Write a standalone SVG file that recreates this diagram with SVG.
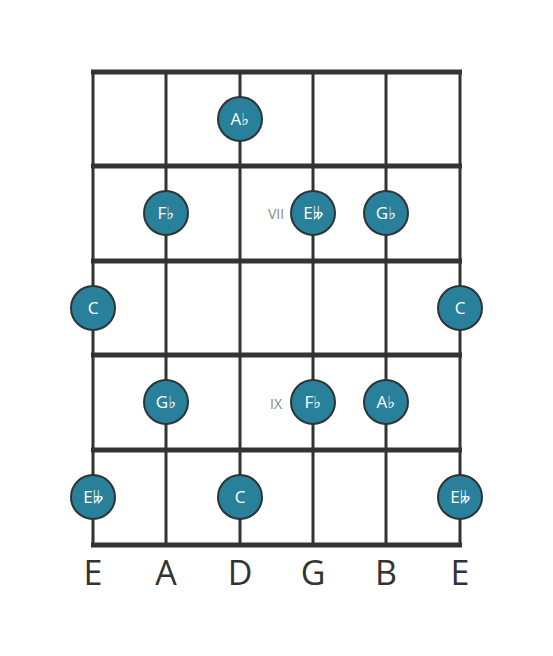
<svg xmlns="http://www.w3.org/2000/svg" width="553" height="656" viewBox="0 0 553 656">
<style>
.str{stroke:#333;stroke-width:3}
.fret{stroke:#333;stroke-width:5}
.nut{stroke:#333;stroke-width:5}
.dot circle{fill:#29809b;stroke:#2d3436;stroke-width:2}
.dot text{fill:#fff;font-family:"Open Sans","DejaVu Sans",sans-serif;font-size:17px;text-anchor:middle}
.pos{fill:#888;font-family:"Open Sans","DejaVu Sans",sans-serif;font-size:14px;text-anchor:middle}
.sn{fill:#333;font-family:"Open Sans","DejaVu Sans",sans-serif;font-size:34px;text-anchor:middle}
</style>
<rect width="553" height="656" fill="#fff"/>
<g id="connectors">
<line class="str" x1="93" y1="72" x2="93" y2="545"/>
<line class="str" x1="166" y1="72" x2="166" y2="545"/>
<line class="str" x1="240" y1="72" x2="240" y2="545"/>
<line class="str" x1="313" y1="72" x2="313" y2="545"/>
<line class="str" x1="386" y1="72" x2="386" y2="545"/>
<line class="str" x1="460" y1="72" x2="460" y2="545"/>
<line class="nut" x1="91" y1="72" x2="462" y2="72"/>
<line class="fret" x1="91" y1="166" x2="462" y2="166"/>
<line class="fret" x1="91" y1="261" x2="462" y2="261"/>
<line class="fret" x1="91" y1="355" x2="462" y2="355"/>
<line class="fret" x1="91" y1="450" x2="462" y2="450"/>
<line class="fret" x1="91" y1="545" x2="462" y2="545"/>
</g>
<g id="pos-vii"><text class="pos" x="276" y="219">VII</text></g>
<g id="pos-ix"><text class="pos" x="276" y="409">IX</text></g>
<g id="n1" class="dot"><circle cx="240" cy="119" r="22"/><text x="240" y="125">A♭</text></g>
<g id="n2" class="dot"><circle cx="166" cy="213" r="22"/><text x="166" y="219">F♭</text></g>
<g id="n3" class="dot"><circle cx="313" cy="213" r="22"/><text x="313" y="219">E𝄫</text></g>
<g id="n4" class="dot"><circle cx="386" cy="213" r="22"/><text x="386" y="219">G♭</text></g>
<g id="n5" class="dot"><circle cx="93" cy="308" r="22"/><text x="93" y="314">C</text></g>
<g id="n6" class="dot"><circle cx="460" cy="308" r="22"/><text x="460" y="314">C</text></g>
<g id="n7" class="dot"><circle cx="166" cy="402" r="22"/><text x="166" y="408">G♭</text></g>
<g id="n8" class="dot"><circle cx="313" cy="402" r="22"/><text x="313" y="408">F♭</text></g>
<g id="n9" class="dot"><circle cx="386" cy="402" r="22"/><text x="386" y="408">A♭</text></g>
<g id="n10" class="dot"><circle cx="93" cy="497" r="22"/><text x="93" y="503">E𝄫</text></g>
<g id="n11" class="dot"><circle cx="240" cy="497" r="22"/><text x="240" y="503">C</text></g>
<g id="n12" class="dot"><circle cx="460" cy="497" r="22"/><text x="460" y="503">E𝄫</text></g>
<g id="strings">
<text class="sn" x="93" y="585">E</text>
<text class="sn" x="166" y="585">A</text>
<text class="sn" x="240" y="585">D</text>
<text class="sn" x="313" y="585">G</text>
<text class="sn" x="386" y="585">B</text>
<text class="sn" x="460" y="585">E</text>
</g>
</svg>
